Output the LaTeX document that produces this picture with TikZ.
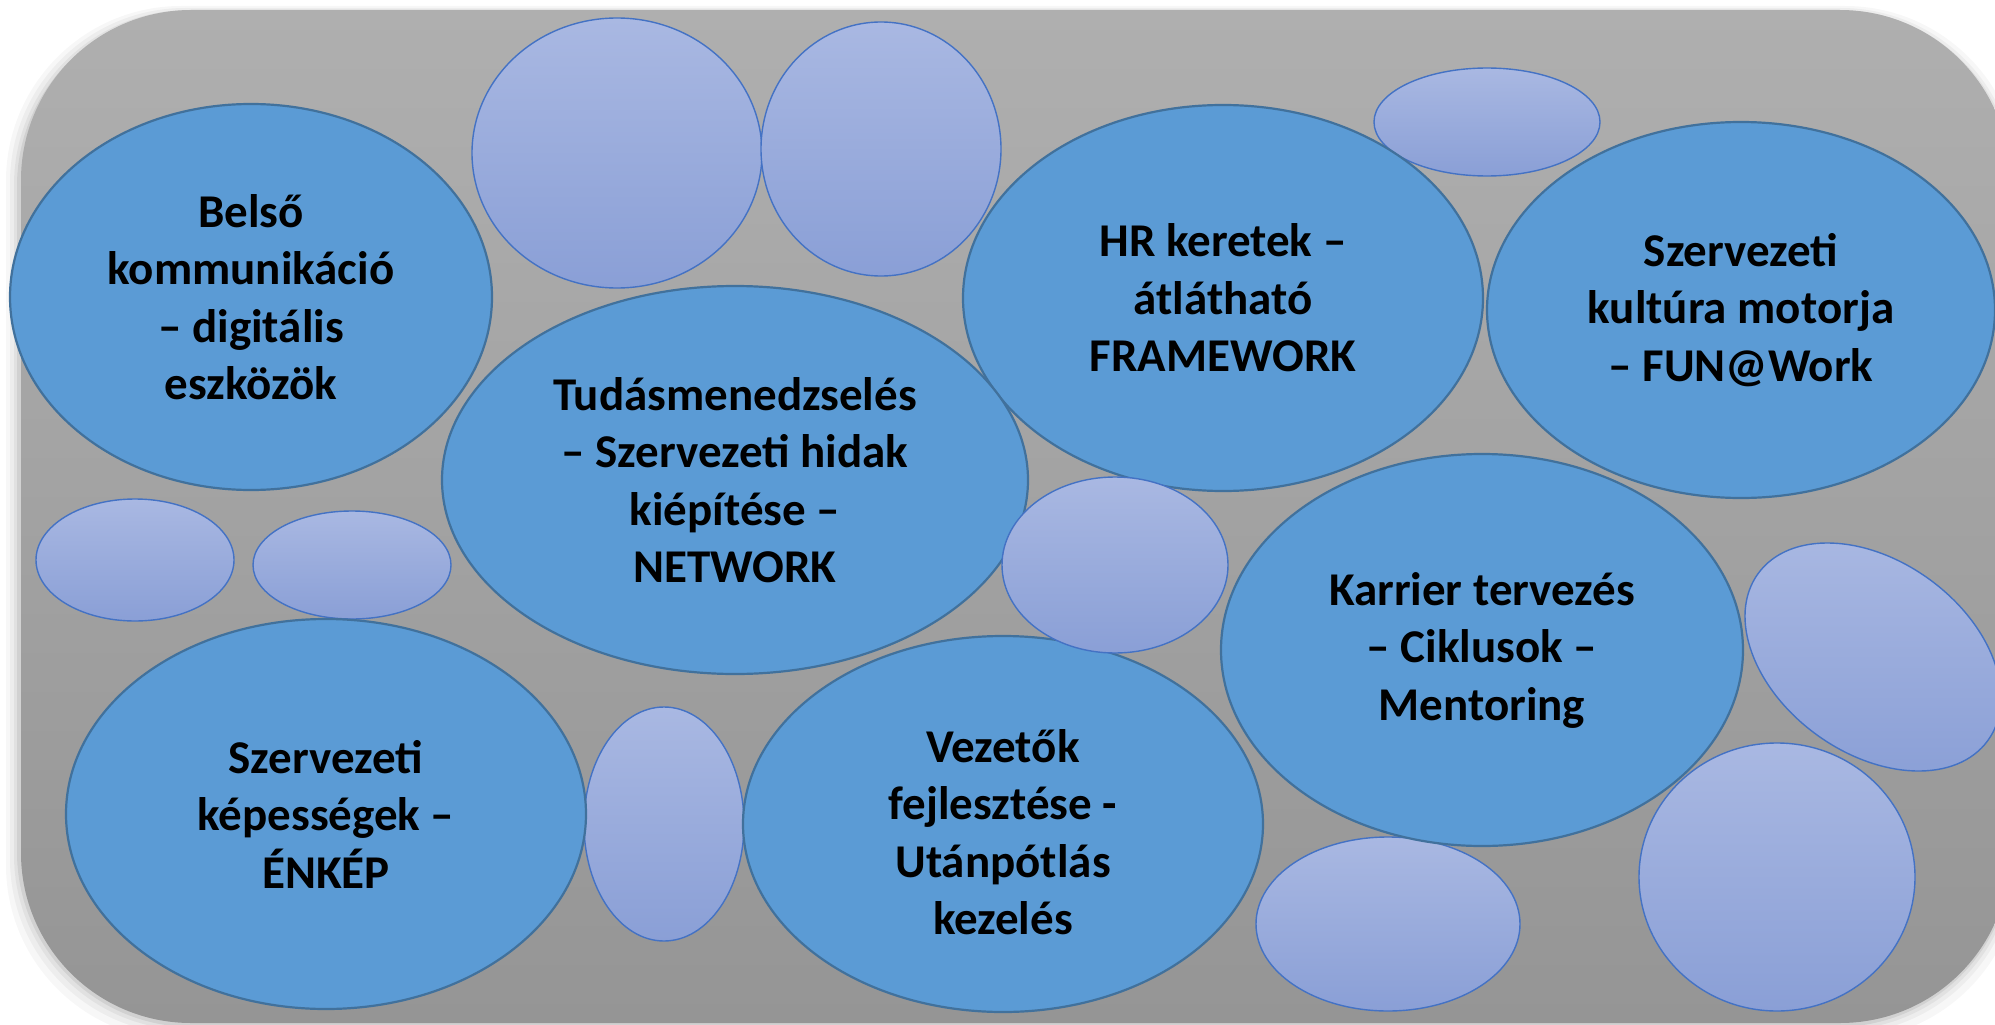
\documentclass[tikz,border=0pt]{standalone}
\usepackage{fontspec}
\setmainfont{Carlito}
\usetikzlibrary{shapes.geometric}
\definecolor{bigfill}{HTML}{5B9BD5}
\definecolor{bigline}{HTML}{41719C}
\definecolor{smtop}{HTML}{A9B8E2}
\definecolor{smbot}{HTML}{8A9FD6}
\definecolor{smline}{HTML}{4472C4}
\definecolor{bgtop}{HTML}{AFAFAF}
\definecolor{bgbot}{HTML}{959595}
\begin{document}
\begin{tikzpicture}[x=1pt,y=-1pt,
  big/.style={ellipse, draw=bigline, line width=2.2pt, fill=bigfill, inner sep=0pt,
    align=center, font=\fontsize{47}{57.5}\selectfont\bfseries},
  txt/.style={align=center, inner sep=0pt, font=\fontsize{47}{57.5}\selectfont\bfseries},
  small/.style={ellipse, draw=smline, line width=1.4pt, top color=smtop, bottom color=smbot, inner sep=0pt},
  shadowlayer/.style={fill=black, rounded corners=175pt}
]
\useasboundingbox (0,0) rectangle (1995,1025);
% soft shadow of the panel
\fill[shadowlayer, opacity=0.03] (6,6) rectangle (2020,1040);
\fill[shadowlayer, opacity=0.04] (10,8) rectangle (2016,1034);
\fill[shadowlayer, opacity=0.05] (14,10) rectangle (2014,1030);
\fill[shadowlayer, opacity=0.07] (17,11) rectangle (2012,1027);
% panel
\path[top color=bgtop, bottom color=bgbot, rounded corners=170pt] (21,10) rectangle (2010,1023);

% small decorative ellipses
\node[small, minimum width=290pt, minimum height=270pt] (sa) at (617,153) {};
\node[small, minimum width=240pt, minimum height=254pt] (sb) at (881,149) {};
\node[small, minimum width=226pt, minimum height=108pt] (sc) at (1487,122) {};
\node[small, minimum width=198pt, minimum height=122pt] (sd) at (135,560) {};
\node[small, minimum width=198pt, minimum height=108pt] (se) at (352,565) {};
\node[small, minimum width=160pt, minimum height=234pt] (sg) at (664,824) {};
\node[small, minimum width=264pt, minimum height=174pt] (sh) at (1388,924) {};
\node[small, minimum width=276pt, minimum height=268pt] (si) at (1777,877) {};
\node[small, minimum width=284pt, minimum height=192pt, rotate=-36] (sj) at (1873,657) {};

% main topics
\node[big, minimum width=482pt, minimum height=386pt] (belso) at (251,297)
  {Belső\\kommunikáció\\– digitális\\eszközök};
\node[big, minimum width=520pt, minimum height=386pt] (hr) at (1223,298)
  {HR keretek –\\átlátható\\FRAMEWORK};
\node[big, minimum width=508pt, minimum height=376pt] (kultura) at (1741,310)
  {Szervezeti\\kultúra motorja\\– FUN@Work};
\node[big, minimum width=522pt, minimum height=392pt] (karrier) at (1482,650)
  {Karrier tervezés\\– Ciklusok –\\Mentoring};
\node[big, minimum width=520pt, minimum height=390pt] (enkep) at (326,814)
  {Szervezeti\\képességek –\\ÉNKÉP};
\node[big, minimum width=520pt, minimum height=376pt] (vezetok) at (1003,824) {};
\node[txt] (vezetoktxt) at ([yshift=-8pt]vezetok.center)
  {Vezetők\\fejlesztése -\\Utánpótlás\\kezelés};
\node[big, minimum width=586pt, minimum height=388pt] (tudas) at (735,480)
  {Tudásmenedzselés\\– Szervezeti hidak\\kiépítése –\\NETWORK};

\node[small, minimum width=226pt, minimum height=176pt] (sf) at (1115,565) {};
\end{tikzpicture}
\end{document}
